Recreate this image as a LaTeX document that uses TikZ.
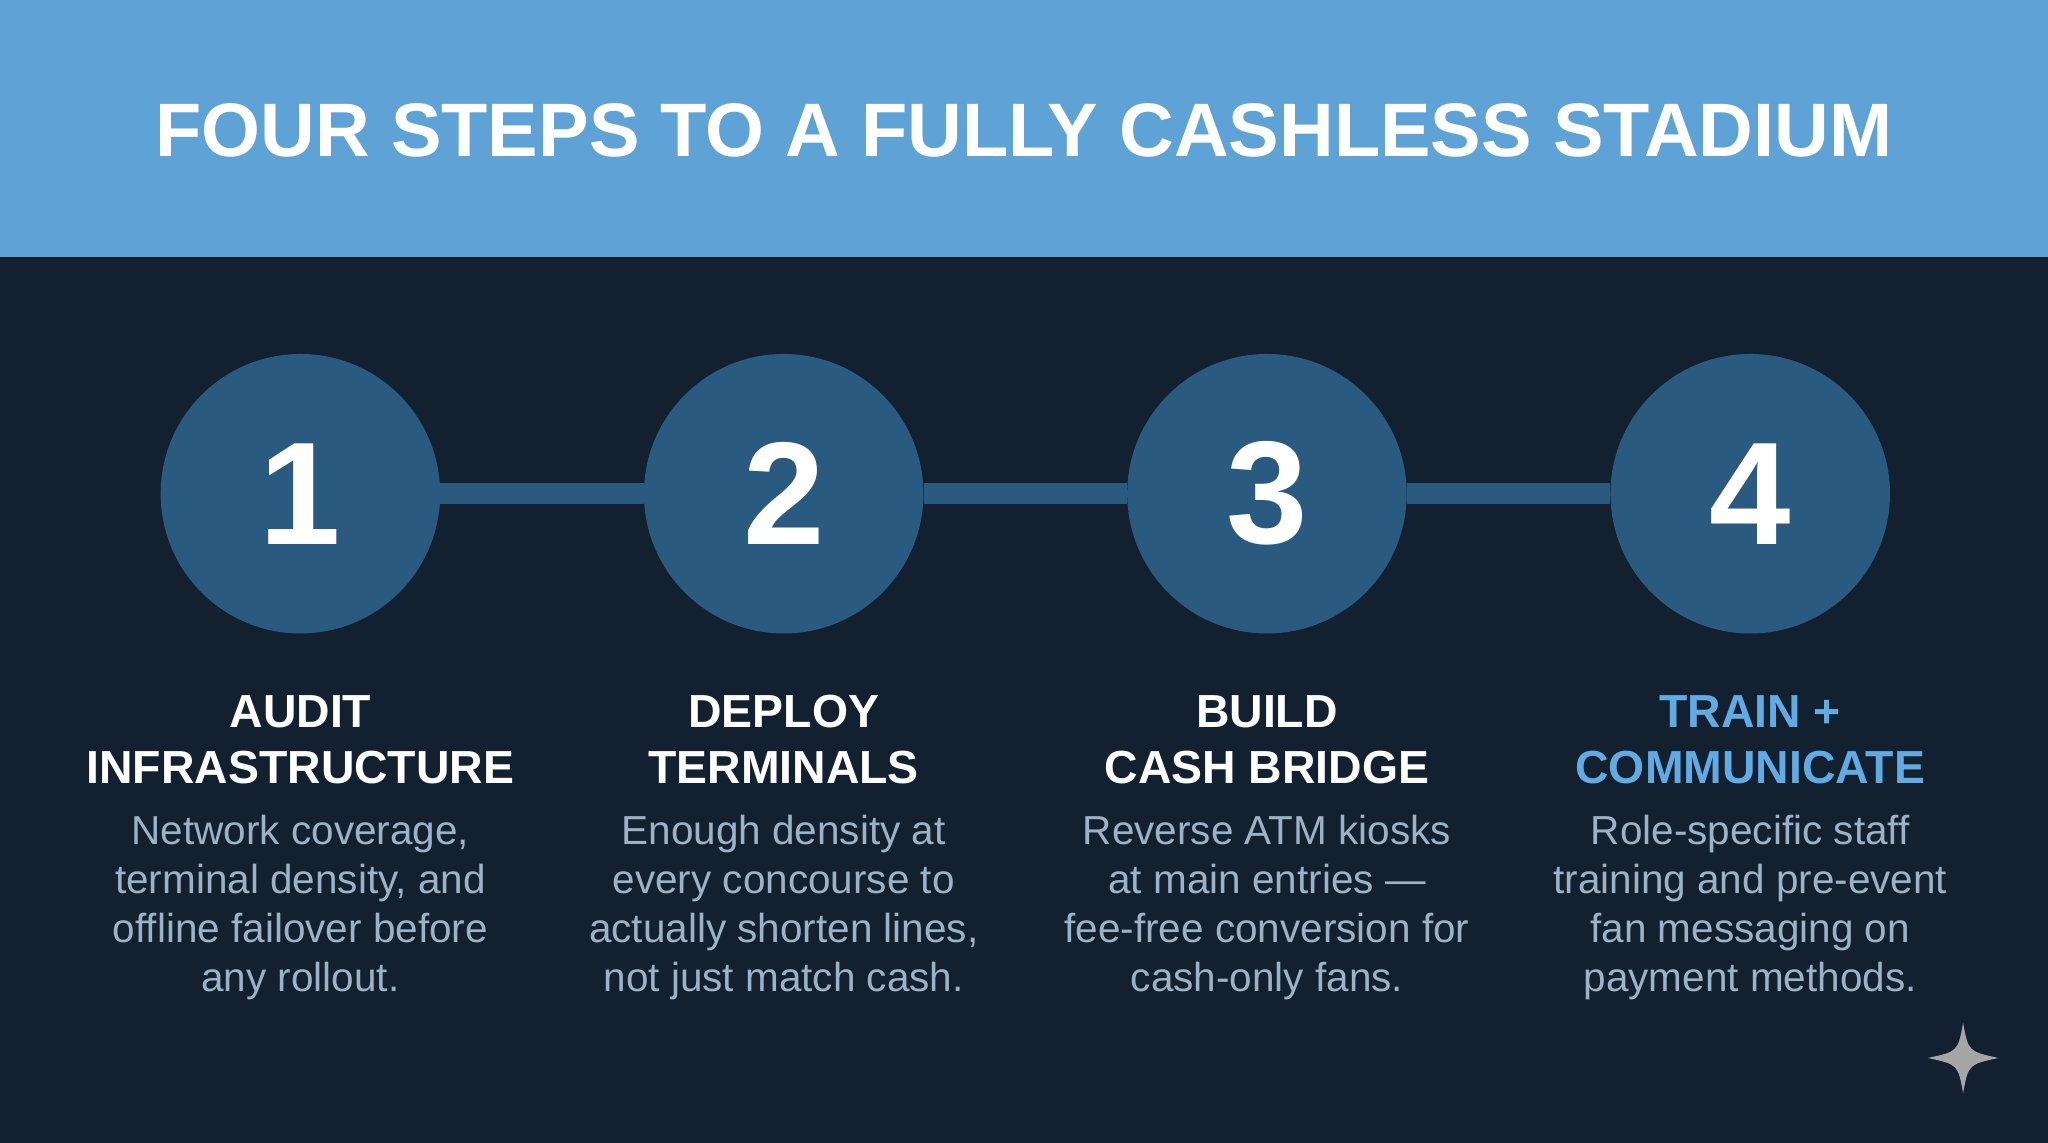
\documentclass[tikz,border=0pt]{standalone}
\usepackage{fontspec}
\setmainfont{Liberation Sans}
\definecolor{bg}{HTML}{12202F}
\definecolor{hdr}{HTML}{5FA3D6}
\definecolor{circ}{HTML}{2B5A80}
\definecolor{body}{HTML}{9DB2C6}
\definecolor{hl}{HTML}{62AAE2}
\begin{document}
\begin{tikzpicture}[x=1pt,y=-1pt,
  stepcirc/.style={circle,fill=circ,minimum size=214pt,inner sep=0pt,text=white,font=\fontsize{112}{112}\selectfont\bfseries},
  steptitle/.style={align=center,text=white,font=\fontsize{35.5}{43}\selectfont\bfseries,anchor=north,inner sep=0pt},
  stepbody/.style={align=center,text=body,font=\fontsize{31}{37.5}\selectfont,anchor=north,inner sep=0pt}]
\useasboundingbox (0,0) rectangle (1568,875);
\fill[bg] (0,0) rectangle (1568,875);
\fill[hdr] (0,0) rectangle (1568,197);
\node[text=white,font=\fontsize{58}{58}\selectfont\bfseries] (title) at (784,100) {FOUR STEPS TO A FULLY CASHLESS STADIUM};
\node[stepcirc] (c1) at (230,378) {1};
\node[stepcirc] (c2) at (600,378) {2};
\node[stepcirc] (c3) at (970,378) {3};
\node[stepcirc] (c4) at (1340,378) {4};
\foreach \a/\b in {c1/c2,c2/c3,c3/c4}{\draw[circ,line width=16pt] (\a.east) -- (\b.west);}
\node[steptitle] (t1) at (230,532) {AUDIT\\INFRASTRUCTURE};
\node[steptitle] (t2) at (600,532) {DEPLOY\\TERMINALS};
\node[steptitle] (t3) at (970,532) {BUILD\\CASH BRIDGE};
\node[steptitle,text=hl] (t4) at (1340,532) {TRAIN +\\COMMUNICATE};
\node[stepbody] (b1) at (230,624) {Network coverage,\\terminal density, and\\offline failover before\\any rollout.};
\node[stepbody] (b2) at (600,624) {Enough density at\\every concourse to\\actually shorten lines,\\not just match cash.};
\node[stepbody] (b3) at (970,624) {Reverse ATM kiosks\\at main entries —\\fee-free conversion for\\cash-only fans.};
\node[stepbody] (b4) at (1340,624) {Role-specific staff\\training and pre-event\\fan messaging on\\payment methods.};
\fill[gray!70] (1503,783) .. controls (1507,805) .. (1530,810) .. controls (1507,815) .. (1503,837) .. controls (1499,815) .. (1476,810) .. controls (1499,805) .. cycle;
\end{tikzpicture}
\end{document}
